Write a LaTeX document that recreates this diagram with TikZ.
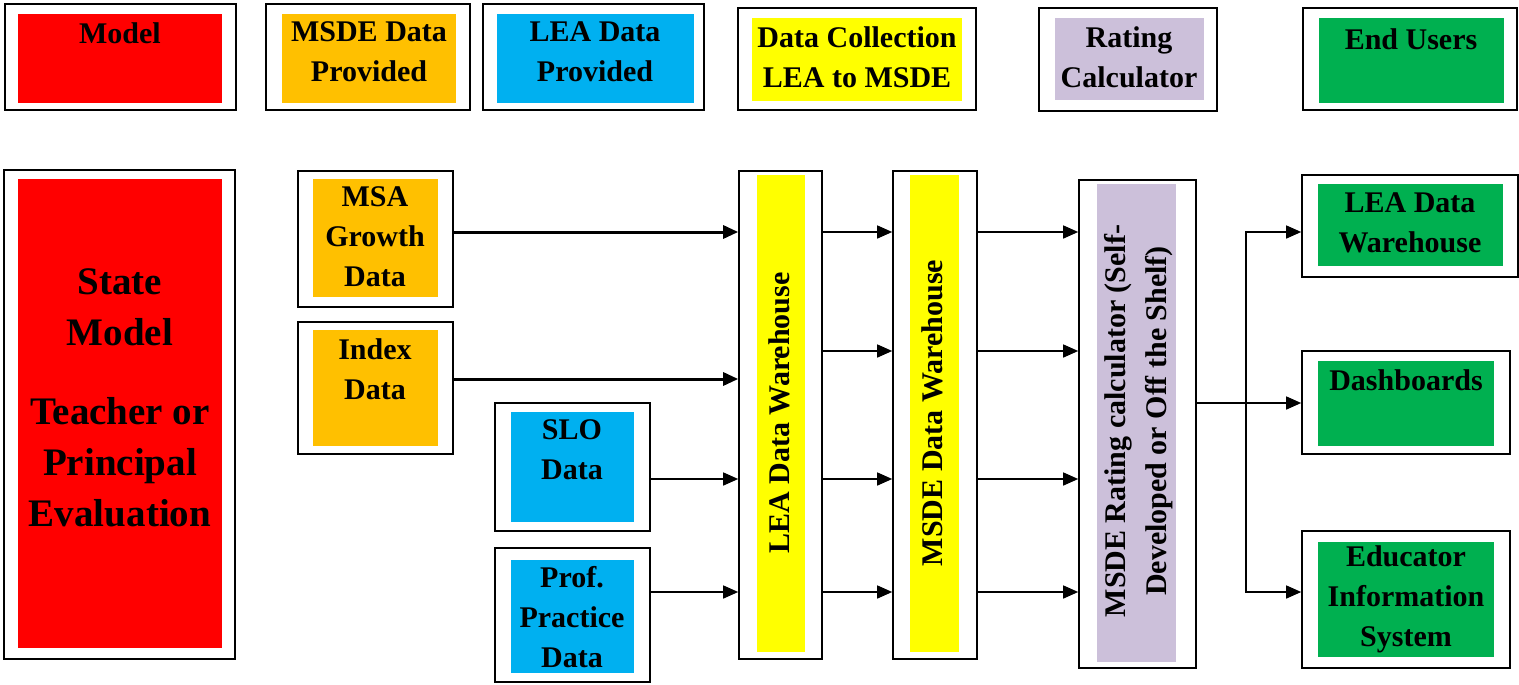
\documentclass[tikz,border=0pt]{standalone}
\usepackage{fontspec}
\setmainfont{Liberation Serif}
\usetikzlibrary{arrows.meta,fit}
\definecolor{modelred}{HTML}{FF0000}
\definecolor{msdeorange}{HTML}{FFC000}
\definecolor{leablue}{HTML}{00B0F0}
\definecolor{collyellow}{HTML}{FFFF00}
\definecolor{ratelilac}{HTML}{CCC0DA}
\definecolor{usergreen}{HTML}{00B050}
\tikzset{
  frame/.style={draw, line width=1.6pt, inner sep=0pt},
  lbl/.style={font=\bfseries\fontsize{30}{40}\selectfont, align=center, inner sep=0pt},
  biglbl/.style={font=\bfseries\fontsize{39}{51}\selectfont, align=center, inner sep=0pt},
  flow/.style={line width=1.4pt, -{Triangle[length=15pt,width=13pt]}},
  heavy/.style={flow, line width=3pt},
}
\begin{document}
\begin{tikzpicture}[x=1pt,y=-1pt]
  \useasboundingbox (0,0) rectangle (1519,685);

  %% key along the top
  \fill[modelred] (18,14) rectangle (222,103);%
  \node[frame, fit={(5,4) (236,110)}] (keymodel) {};
  \node[lbl] (keymodel-txt) at (120,33) {Model};

  \fill[msdeorange] (282,14) rectangle (456,103);%
  \node[frame, fit={(266,4) (470,110)}] (keymsde) {};
  \node[lbl] (keymsde-txt) at (369,52) {MSDE Data\\Provided};

  \fill[leablue] (497,14) rectangle (694,103);%
  \node[frame, fit={(483,4) (704,110)}] (keylea) {};
  \node[lbl] (keylea-txt) at (595,52) {LEA Data\\Provided};

  \fill[collyellow] (752,18) rectangle (962,101);%
  \node[frame, fit={(738,8) (976,110)}] (keycoll) {};
  \node[lbl] (keycoll-txt) at (857,57) {Data Collection\\LEA to MSDE};

  \fill[ratelilac] (1055,18) rectangle (1204,100);%
  \node[frame, fit={(1039,8) (1217,111)}] (keyrate) {};
  \node[lbl] (keyrate-txt) at (1129,57) {Rating\\Calculator};

  \fill[usergreen] (1319,18) rectangle (1504,103);%
  \node[frame, fit={(1303,8) (1517,110)}] (keyend) {};
  \node[lbl] (keyend-txt) at (1411,39) {End Users};

  %% model
  \fill[modelred] (18,179) rectangle (222,648);%
  \node[frame, fit={(4,170) (235,659)}] (state) {};
  \node[biglbl] (state-txt) at (120,398) {State\\Model\\[28pt]Teacher or\\Principal\\Evaluation};

  %% data sources
  \fill[msdeorange] (313,179) rectangle (438,297);%
  \node[frame, fit={(298,171) (453,307)}] (msa) {};
  \node[lbl] (msa-txt) at (375,237) {MSA\\Growth\\Data};

  \fill[msdeorange] (313,330) rectangle (438,446);%
  \node[frame, fit={(298,322) (453,454)}] (index) {};
  \node[lbl] (index-txt) at (375,369) {Index\\Data};

  \fill[leablue] (511,412) rectangle (634,522);%
  \node[frame, fit={(495,403) (650,531)}] (slo) {};
  \node[lbl] (slo-txt) at (572,450) {SLO\\Data};

  \fill[leablue] (511,560) rectangle (634,673);%
  \node[frame, fit={(495,548) (650,682)}] (prof) {};
  \node[lbl] (prof-txt) at (572,617) {Prof.\\Practice\\Data};

  %% warehouses and calculator
  \fill[collyellow] (757,175) rectangle (805,652);%
  \node[frame, fit={(739,171) (822,659)}] (leadw) {};
  \node[lbl, rotate=90] (leadw-txt) at (779,413) {LEA Data Warehouse};

  \fill[collyellow] (910,175) rectangle (959,652);%
  \node[frame, fit={(893,171) (977,659)}] (msdedw) {};
  \node[lbl, rotate=90] (msdedw-txt) at (932,413) {MSDE Data Warehouse};

  \fill[ratelilac] (1097,184) rectangle (1176,662);%
  \node[frame, fit={(1079,180) (1196,668)}] (rating) {};
  \node[lbl, rotate=90, font=\bfseries\fontsize{30}{41}\selectfont] (rating-txt) at (1139,421)
  {MSDE Rating calculator (Self-\\Developed or Off the Shelf)};

  %% end users
  \fill[usergreen] (1318,184) rectangle (1503,266);%
  \node[frame, fit={(1302,175) (1518,277)}] (enddw) {};
  \node[lbl] (enddw-txt) at (1410,223) {LEA Data\\Warehouse};

  \fill[usergreen] (1318,361) rectangle (1494,446);%
  \node[frame, fit={(1302,351) (1510,454)}] (dash) {};
  \node[lbl] (dash-txt) at (1406,380) {Dashboards};

  \fill[usergreen] (1318,542) rectangle (1494,657);%
  \node[frame, fit={(1302,531) (1510,668)}] (edu) {};
  \node[lbl] (edu-txt) at (1406,599) {Educator\\Information\\System};

  %% rows of the arrows
  \coordinate (row1) at (0,232);
  \coordinate (row2) at (0,351);
  \coordinate (row3) at (0,479);
  \coordinate (row4) at (0,592);
  \coordinate (rowidx) at (0,379);
  \coordinate (rowdash) at (0,403);
  \coordinate (split) at (1246,0);

  \draw[heavy] (msa.east |- row1) -- (leadw.west |- row1);
  \draw[heavy] (index.east |- rowidx) -- (leadw.west |- rowidx);
  \draw[flow] (slo.east |- row3) -- (leadw.west |- row3);
  \draw[flow] (prof.east |- row4) -- (leadw.west |- row4);
  \foreach \r in {row1, row2, row3, row4} {
    \draw[flow] (leadw.east |- \r) -- (msdedw.west |- \r);
    \draw[flow] (msdedw.east |- \r) -- (rating.west |- \r);
  }
  \draw[flow] (rating.east |- rowdash) -- (dash.west |- rowdash);
  \draw[flow] (split |- rowdash) |- (enddw.west |- row1);
  \draw[flow] (split |- rowdash) |- (edu.west |- row4);
\end{tikzpicture}
\end{document}
